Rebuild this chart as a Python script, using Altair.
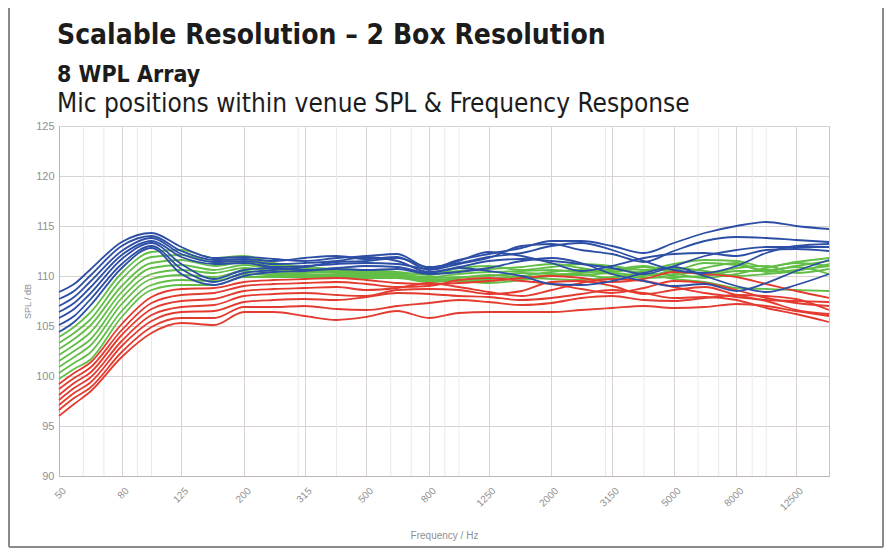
import altair as alt
import pandas as pd

FREQS = [50, 56, 63, 80, 100, 125, 160, 200, 250, 315, 400, 500, 630, 800, 1000,
         1250, 1600, 2000, 2500, 3150, 4000, 5000, 6300, 8000, 10000, 12500, 16000]

BLUE = [
    [108.4, 109.2, 110.6, 113.4, 114.3, 112.9, 111.8, 111.9, 111.7, 111.5, 111.8, 112.0, 112.2, 110.8, 111.6, 112.2, 112.8, 113.5, 113.5, 113.0, 112.3, 113.3, 114.3, 115.0, 115.4, 115.0, 114.7],
    [107.7, 108.5, 110.0, 113.0, 114.0, 112.5, 111.6, 111.7, 111.5, 111.8, 112.0, 111.7, 111.9, 110.6, 111.2, 111.8, 113.0, 113.2, 112.6, 112.2, 111.4, 112.5, 113.5, 113.9, 113.8, 113.6, 113.4],
    [107.0, 107.9, 109.4, 112.5, 113.8, 112.2, 111.4, 111.5, 111.2, 111.3, 111.5, 111.9, 111.5, 110.4, 110.9, 111.5, 111.7, 111.5, 111.2, 110.8, 110.2, 111.0, 112.0, 112.6, 112.9, 112.9, 112.9],
    [106.4, 107.3, 108.8, 112.1, 113.5, 111.9, 111.2, 111.3, 110.9, 111.0, 111.2, 111.3, 111.2, 110.7, 111.5, 112.4, 112.0, 111.3, 110.5, 111.0, 111.8, 112.2, 112.3, 112.0, 112.6, 112.7, 112.5],
    [105.8, 106.7, 108.2, 111.7, 113.3, 111.2, 109.7, 110.6, 110.8, 110.6, 110.8, 111.0, 110.9, 110.3, 110.8, 110.5, 110.0, 109.2, 109.1, 109.5, 110.3, 110.9, 110.0, 109.0, 108.4, 109.1, 110.2],
    [105.1, 106.0, 107.6, 111.2, 113.0, 110.7, 109.4, 110.3, 110.6, 110.9, 111.4, 111.5, 111.8, 110.9, 111.3, 111.9, 112.3, 113.0, 113.3, 112.6, 111.5, 110.6, 110.3, 111.0, 112.3, 113.0, 113.2],
    [104.4, 105.4, 107.0, 110.8, 112.8, 110.2, 109.1, 110.0, 110.4, 110.5, 110.7, 110.6, 110.7, 110.2, 110.4, 110.8, 111.5, 111.8, 111.3, 110.2, 109.5, 109.0, 109.2, 108.5, 109.3, 110.5, 111.6],
]

GREEN = [
    [103.9, 104.9, 106.3, 110.3, 112.4, 112.6, 111.8, 112.0, 111.3, 110.9, 110.7, 110.6, 110.4, 110.1, 110.8, 111.0, 110.6, 110.9, 111.2, 111.0, 110.6, 111.2, 111.6, 111.5, 110.9, 111.4, 111.8],
    [103.3, 104.3, 105.6, 109.7, 111.9, 112.1, 111.4, 111.7, 111.1, 110.8, 110.6, 110.5, 110.3, 110.2, 110.5, 110.7, 110.9, 111.2, 110.8, 110.4, 110.9, 110.6, 111.3, 111.1, 110.6, 111.0, 111.5],
    [102.7, 103.7, 105.0, 109.0, 111.3, 111.6, 111.0, 111.4, 110.9, 110.6, 110.5, 110.4, 110.2, 109.9, 110.2, 110.4, 110.5, 110.6, 110.4, 110.7, 110.3, 110.1, 110.8, 111.3, 110.4, 110.6, 111.0],
    [102.1, 103.1, 104.3, 108.4, 110.8, 111.1, 110.6, 111.1, 110.7, 110.5, 110.4, 110.3, 110.1, 109.8, 109.9, 110.0, 110.3, 110.2, 110.1, 110.3, 110.0, 110.5, 110.2, 110.8, 111.0, 110.3, 110.7],
    [101.5, 102.5, 103.6, 107.8, 110.2, 110.6, 110.3, 110.8, 110.5, 110.4, 110.3, 110.2, 110.0, 109.7, 109.6, 109.7, 110.0, 110.4, 110.6, 110.2, 109.8, 109.9, 110.0, 110.5, 110.5, 110.9, 110.2],
    [100.9, 101.9, 103.0, 107.2, 109.7, 110.1, 109.9, 110.5, 110.3, 110.2, 110.1, 110.1, 109.9, 109.5, 109.5, 109.3, 109.6, 110.0, 110.1, 109.8, 110.5, 110.8, 110.5, 110.0, 110.2, 110.5, 111.2],
    [100.3, 101.3, 102.3, 106.5, 109.1, 109.6, 109.5, 110.2, 110.1, 110.1, 110.0, 110.0, 109.9, 109.6, 109.8, 110.1, 109.9, 109.7, 109.6, 109.9, 110.2, 109.7, 109.4, 108.8, 108.7, 108.6, 108.5],
    [99.7, 100.7, 101.6, 105.9, 108.6, 109.1, 109.1, 109.9, 109.9, 109.9, 109.9, 109.8, 109.8, 109.4, 109.6, 109.5, 109.8, 110.1, 110.3, 110.6, 111.0, 110.3, 109.8, 110.2, 110.8, 111.3, 111.0],
]

RED = [
    [99.2, 100.3, 101.3, 105.2, 107.9, 108.7, 108.8, 109.4, 109.6, 109.7, 109.8, 109.6, 109.3, 109.2, 109.3, 109.5, 109.8, 110.0, 109.8, 109.4, 109.7, 110.4, 110.2, 109.9, 109.2, 108.5, 107.8],
    [98.7, 99.8, 100.8, 104.6, 107.3, 108.1, 108.3, 109.0, 109.2, 109.3, 109.4, 109.2, 108.9, 109.0, 109.6, 109.8, 109.5, 109.2, 108.7, 108.3, 108.8, 109.5, 109.3, 108.6, 107.8, 107.3, 107.0],
    [98.1, 99.3, 100.3, 104.1, 106.7, 107.5, 107.7, 108.5, 108.7, 108.8, 108.9, 108.6, 108.8, 109.3, 108.9, 108.4, 108.0, 108.6, 109.3, 109.7, 109.5, 108.9, 108.3, 107.9, 107.5, 106.6, 106.2],
    [97.6, 98.8, 99.8, 103.5, 106.1, 106.9, 107.1, 108.0, 108.2, 108.3, 108.1, 108.0, 108.6, 108.7, 108.6, 108.2, 108.5, 109.4, 109.5, 109.0, 108.2, 108.6, 108.9, 108.1, 107.6, 107.5, 107.4],
    [97.1, 98.3, 99.3, 103.0, 105.5, 106.4, 106.5, 107.4, 107.6, 107.7, 107.6, 107.9, 108.3, 108.2, 108.0, 107.9, 107.6, 107.8, 108.2, 108.6, 108.3, 107.8, 107.9, 107.6, 106.8, 106.2, 105.4],
    [96.6, 97.8, 98.8, 102.4, 104.9, 105.8, 105.8, 106.9, 106.9, 107.0, 106.7, 106.6, 107.0, 107.3, 107.6, 107.4, 107.1, 107.3, 107.8, 108.0, 107.6, 107.5, 107.8, 108.1, 108.0, 107.7, 106.6],
    [96.0, 97.2, 98.4, 101.9, 104.3, 105.3, 105.1, 106.4, 106.4, 106.0, 105.6, 105.9, 106.5, 105.8, 106.3, 106.4, 106.4, 106.4, 106.6, 106.8, 107.0, 106.8, 106.9, 107.2, 107.0, 106.5, 106.0],
]

X_TICKS = [50, 80, 125, 200, 315, 500, 800, 1250, 2000, 3150, 5000, 8000, 12500]
X_MINOR = [60, 70, 90, 100, 300, 400, 600, 700, 900, 1000, 3000, 4000, 6000, 7000, 9000, 10000]
Y_TICKS = [90, 95, 100, 105, 110, 115, 120, 125]

TITLE = "Scalable Resolution \u2013 2 Box Resolution"
SUBTITLE = "8 WPL Array"
CAPTION = "Mic positions within venue SPL & Frequency Response"

COLORS = {"blue": "#2c4ea5", "green": "#63be47", "red": "#e33b2f"}
HEAD_FONT = "'Liberation Sans Narrow', 'DejaVu Sans Condensed', 'Roboto Condensed', Roboto, sans-serif"


def family_df(name, curves):
    rows = []
    for i, c in enumerate(curves):
        for f, v in zip(FREQS, c):
            rows.append({"fam": name, "id": f"{name}{i}", "f": f, "spl": v})
    return pd.DataFrame(rows)


xscale = alt.Scale(type="log", domain=[50, 16000], nice=False)
yscale = alt.Scale(domain=[90, 125], nice=False)

LABEL_FONT = "Liberation Sans"
AX_GRAY = "#8f8f8f"

xaxis = alt.Axis(values=X_TICKS, labelExpr="format(datum.value, 'd')", labelAngle=-45,
                 labelAlign="right", labelBaseline="middle", labelOffset=5, labelPadding=13,
                 ticks=False, grid=True, gridColor="#d9d2d2", gridWidth=1,
                 domainColor="#bdb5b5", labelColor=AX_GRAY, labelFontSize=10, labelFont=LABEL_FONT,
                 title="Frequency / Hz", titleFont=LABEL_FONT, titleFontSize=10,
                 titleFontWeight="normal", titleColor=AX_GRAY, titlePadding=18)
yaxis = alt.Axis(values=Y_TICKS, format="d", ticks=False, grid=True, gridColor="#d9d2d2",
                 domainColor="#bdb5b5", labelColor=AX_GRAY, labelFontSize=11, labelFont=LABEL_FONT,
                 labelPadding=5,
                 title="SPL / dB", titleFont=LABEL_FONT, titleFontSize=9, titleFontWeight="normal",
                 titleColor=AX_GRAY, titlePadding=3)

minor = alt.Chart(pd.DataFrame({"f": X_MINOR})).mark_rule(color="#ece8e8", strokeWidth=1).encode(
    x=alt.X("f:Q", scale=xscale, axis=xaxis)
)


def lines(name, curves):
    return alt.Chart(family_df(name, curves)).mark_line(
        strokeWidth=1.8, interpolate="monotone", color=COLORS[name]
    ).encode(
        x=alt.X("f:Q", scale=xscale, axis=xaxis),
        y=alt.Y("spl:Q", scale=yscale, axis=yaxis),
        detail="id:N",
    )


def text_layer(txt, size, weight, y, color="#1c1c1c"):
    return alt.Chart(pd.DataFrame({"t": [txt]})).mark_text(
        align="left", baseline="alphabetic", font=HEAD_FONT,
        fontSize=size, fontWeight=weight, color=color
    ).encode(x=alt.value(-2), y=alt.value(y), text="t:N")


one = pd.DataFrame({"a": [0]})
FRAME = "#8a8a8a"
frame_left = alt.Chart(one).mark_rule(color=FRAME, strokeWidth=2).encode(
    x=alt.value(-50), y=alt.value(-126), y2=alt.value(421))
frame_right = alt.Chart(one).mark_rule(color=FRAME, strokeWidth=2).encode(
    x=alt.value(824), y=alt.value(-126), y2=alt.value(421))
frame_bottom = alt.Chart(one).mark_rule(color=FRAME, strokeWidth=2).encode(
    x=alt.value(-50), x2=alt.value(824), y=alt.value(421))

chart = alt.layer(
    minor,
    lines("green", GREEN),
    lines("red", RED),
    lines("blue", BLUE),
    text_layer(TITLE, 28, "bold", -82),
    text_layer(SUBTITLE, 23, "bold", -44),
    text_layer(CAPTION, 26, "normal", -14),
    frame_left, frame_right, frame_bottom,
).properties(
    width=770, height=350,
    autosize=alt.AutoSizeParams(type="none"),
    padding={"left": 51, "top": 118, "right": 55, "bottom": 72},
    background="white",
).configure_view(stroke="#c9c1c1", strokeWidth=1)

chart.save("out.html", embed_options={"renderer": "svg", "actions": False})
